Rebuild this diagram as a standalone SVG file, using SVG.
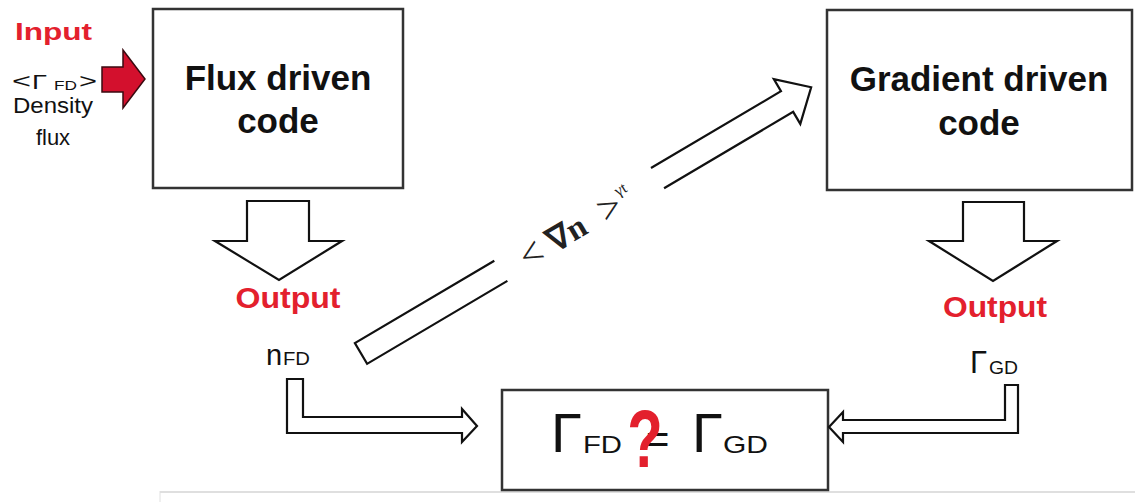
<svg xmlns="http://www.w3.org/2000/svg" width="1135" height="502" viewBox="0 0 1135 502">
<defs>
<style>
.box{fill:#fff;stroke:#333;stroke-width:2.5}
.blk{fill:#fff;stroke:#111;stroke-width:2.2;stroke-linejoin:miter}
.ln{fill:none;stroke:#111;stroke-width:2.2;stroke-linejoin:miter}
.t{font-family:"Liberation Sans",Arial,sans-serif;fill:#111}
.b{font-weight:bold}
.red{fill:#e3202d}
.ser{font-family:"Liberation Serif","Times New Roman",serif;fill:#222}
</style>
</defs>
<rect width="1135" height="502" fill="#fff"/>
<line x1="160" y1="492" x2="1135" y2="492" stroke="#d4d4d4" stroke-width="1.5"/>
<line x1="160" y1="491" x2="160" y2="502" stroke="#e0e0e0" stroke-width="1"/>

<g id="input">
<text class="t b red" x="15" y="40" font-size="24" textLength="77" lengthAdjust="spacingAndGlyphs">Input</text>
<text class="t" x="12" y="88" font-size="21" textLength="19" lengthAdjust="spacingAndGlyphs">&lt;</text>
<text class="t" x="32" y="89" font-size="20" textLength="15" lengthAdjust="spacingAndGlyphs">Γ</text>
<text class="t" x="54" y="90" font-size="12" textLength="23" lengthAdjust="spacingAndGlyphs">FD</text>
<text class="t" x="79" y="88" font-size="21" textLength="18" lengthAdjust="spacingAndGlyphs">&gt;</text>
<text class="t" x="13" y="113" font-size="22" textLength="80" lengthAdjust="spacingAndGlyphs">Density</text>
<text class="t" x="53" y="145" font-size="22" text-anchor="middle">flux</text>
<polygon points="102,67 123,67 123,50 145,79 123,108 123,92 102,92" fill="#d3102d" stroke="#3a0a10" stroke-width="1.5"/>
</g>

<g id="flux-box">
<rect class="box" x="153" y="9" width="250" height="179"/>
<text class="t b" x="278" y="90" font-size="35" text-anchor="middle">Flux driven</text>
<text class="t b" x="278" y="133" font-size="35" text-anchor="middle">code</text>
</g>

<g id="gradient-box">
<rect class="box" x="827" y="10" width="305" height="180"/>
<text class="t b" x="979" y="91" font-size="35" text-anchor="middle">Gradient driven</text>
<text class="t b" x="979" y="135" font-size="35" text-anchor="middle">code</text>
</g>

<g id="flux-output">
<text class="t b red" x="288" y="308" font-size="29" text-anchor="middle" textLength="105" lengthAdjust="spacingAndGlyphs">Output</text>
<text class="t" x="266" y="365" font-size="29">n</text>
<text class="t" x="283" y="365" font-size="18" textLength="27" lengthAdjust="spacingAndGlyphs">FD</text>
</g>

<g id="gradient-output">
<text class="t b red" x="995" y="317" font-size="29" text-anchor="middle" textLength="104" lengthAdjust="spacingAndGlyphs">Output</text>
<text class="t" x="970" y="373" font-size="31">Γ</text>
<text class="t" x="989" y="374" font-size="18" textLength="29" lengthAdjust="spacingAndGlyphs">GD</text>
</g>

<g id="compare-box">
<rect class="box" x="502" y="390" width="326" height="100"/>
<text class="t" x="551" y="452" font-size="56">Γ</text>
<text class="t" x="583" y="453" font-size="24" textLength="39" lengthAdjust="spacingAndGlyphs">FD</text>
<text class="t" x="646" y="453" font-size="40">=</text>
<text class="t b red" transform="translate(645,467) scale(1,1.42)" font-size="58" text-anchor="middle">?</text>
<text class="t" x="692" y="452" font-size="56">Γ</text>
<text class="t" x="723" y="453" font-size="24" textLength="45" lengthAdjust="spacingAndGlyphs">GD</text>
</g>

<g id="connectors">
<polygon class="blk" points="247,201 309,201 309,241 342,241 279,280 215,241 247,241"/>
<polygon class="blk" points="963,202 1024,202 1024,241 1057,241 993,281 929,241 963,241"/>
<polygon class="blk" points="287,379 303,379 303,417 462,417 462,409 477,426 462,442 462,433 287,433"/>
<polygon class="blk" points="1005,385 1018,385 1018,433 843,433 843,442 829,427 843,412 843,420 1005,420"/>
<g transform="translate(361,353.5) rotate(-30.6)">
<path class="ln" d="M162,-12 L0,-12 L0,12 L163,12"/>
<path class="ln" d="M344,-12 L495,-12 L495,-26 L523,0 L495,26 L495,12 L345,12"/>
<text class="ser" x="186" y="14" font-size="40">&lt;</text>
<text class="ser b" x="218" y="12" font-size="33">∇n</text>
<text class="ser" x="277" y="14" font-size="40">&gt;</text>
<text class="ser" x="301" y="-4" font-size="16">γt</text>
</g>
</g>
</svg>
